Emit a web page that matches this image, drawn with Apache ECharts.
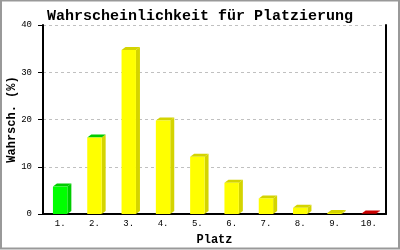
<!DOCTYPE html>
<html><head><meta charset="utf-8">
<script src="https://cdn.jsdelivr.net/npm/echarts@6/dist/echarts.min.js"></script>
<style>html,body{margin:0;padding:0;background:#fff}#c{width:400px;height:250px}</style>
</head><body><div id="c"></div>
<script>
const categories = ['1.','2.','3.','4.','5.','6.','7.','8.','9.','10.'];
const values = [5.8, 16.2, 34.7, 19.8, 12.1, 6.6, 3.3, 1.3, 0.2, 0.1];
const yTicks = [0, 10, 20, 30, 40];

// styles (per bar): front, top, side
const frontCol = ['#00ff00','#ffff00','#ffff00','#ffff00','#ffff00','#ffff00','#ffff00','#ffff00','#ffff00','#cc0000'];
const topCol   = ['#00cc00','#00cc00','#d4d400','#d4d400','#d4d400','#d4d400','#d4d400','#d4d400','#d4d400','#cc0000'];
const sideCol  = ['#00cc00','#d4d400','#d4d400','#d4d400','#d4d400','#d4d400','#d4d400','#d4d400','#d4d400','#cc0000'];

const mono = '"Liberation Mono", "DejaVu Sans Mono", monospace';
const chart = echarts.init(document.getElementById('c'), null, {renderer:'canvas'});
const DX = 4, DY = 3;
chart.setOption({
  animation:false,
  graphic:[{type:'rect', shape:{x:1, y:0.5, width:398, height:248}, style:{fill:null, stroke:'#999', lineWidth:2}, silent:true}],
  title:{text:'Wahrscheinlichkeit für Platzierung', left:'center', top:4,
    textStyle:{fontFamily:mono, fontWeight:'bold', fontSize:15, color:'#000'}},
  grid:{left:43, right:14, top:25, bottom:36, outerBoundsMode:'none', containLabel:false},
  xAxis:{type:'category', data:categories, name:'Platz', nameLocation:'middle', nameGap:20, nameMoveOverlap:false,
    nameTextStyle:{fontFamily:mono, fontWeight:'bold', fontSize:12, color:'#000'},
    axisLine:{lineStyle:{color:'#000', width:2}}, axisTick:{show:false},
    axisLabel:{fontFamily:mono, fontSize:9, color:'#000', margin:5}},
  yAxis:[{type:'value', min:yTicks[0], max:yTicks[yTicks.length-1], interval:10,
    name:'Wahrsch. (%)', nameLocation:'middle', nameGap:25, nameRotate:90, nameMoveOverlap:false,
    nameTextStyle:{fontFamily:mono, fontWeight:'bold', fontSize:12, color:'#000'},
    axisLine:{show:true, lineStyle:{color:'#000', width:2}},
    axisTick:{show:true, length:5, lineStyle:{color:'#000'}},
    axisLabel:{fontFamily:mono, fontSize:9, color:'#000', margin:11},
    splitLine:{show:true, lineStyle:{color:'#c0c0c0', type:[3,3]}}},
   {type:'value', min:0, max:40, interval:10, position:'right',
    axisLine:{show:true, lineStyle:{color:'#000', width:2}}, axisTick:{show:false},
    axisLabel:{show:false}, splitLine:{show:false}}],
  series:[{type:'custom', clip:false,
    data: values.map((v,i)=>[i,v]),
    encode:{x:0,y:1},
    renderItem:(params, api)=>{
      const i = api.value(0), v = api.value(1);
      const t = api.coord([i, v]), b = api.coord([i, 0]);
      const bw = api.size([1,0])[0]*0.42;
      const xl = t[0]-bw/2, xr = t[0]+bw/2;
      return {type:'group', children:[
        {type:'polygon', shape:{points:[[xr,t[1]],[xr+DX,t[1]-DY],[xr+DX,b[1]-DY],[xr,b[1]]]}, style:{fill:sideCol[i]}},
        {type:'polygon', shape:{points:[[xl,t[1]],[xl+DX,t[1]-DY],[xr+DX,t[1]-DY],[xr,t[1]]]}, style:{fill:topCol[i]}},
        {type:'rect', shape:{x:xl, y:t[1], width:bw, height:b[1]-t[1]}, style:{fill:frontCol[i]}}
      ]};
    }}]
});
</script></body></html>
